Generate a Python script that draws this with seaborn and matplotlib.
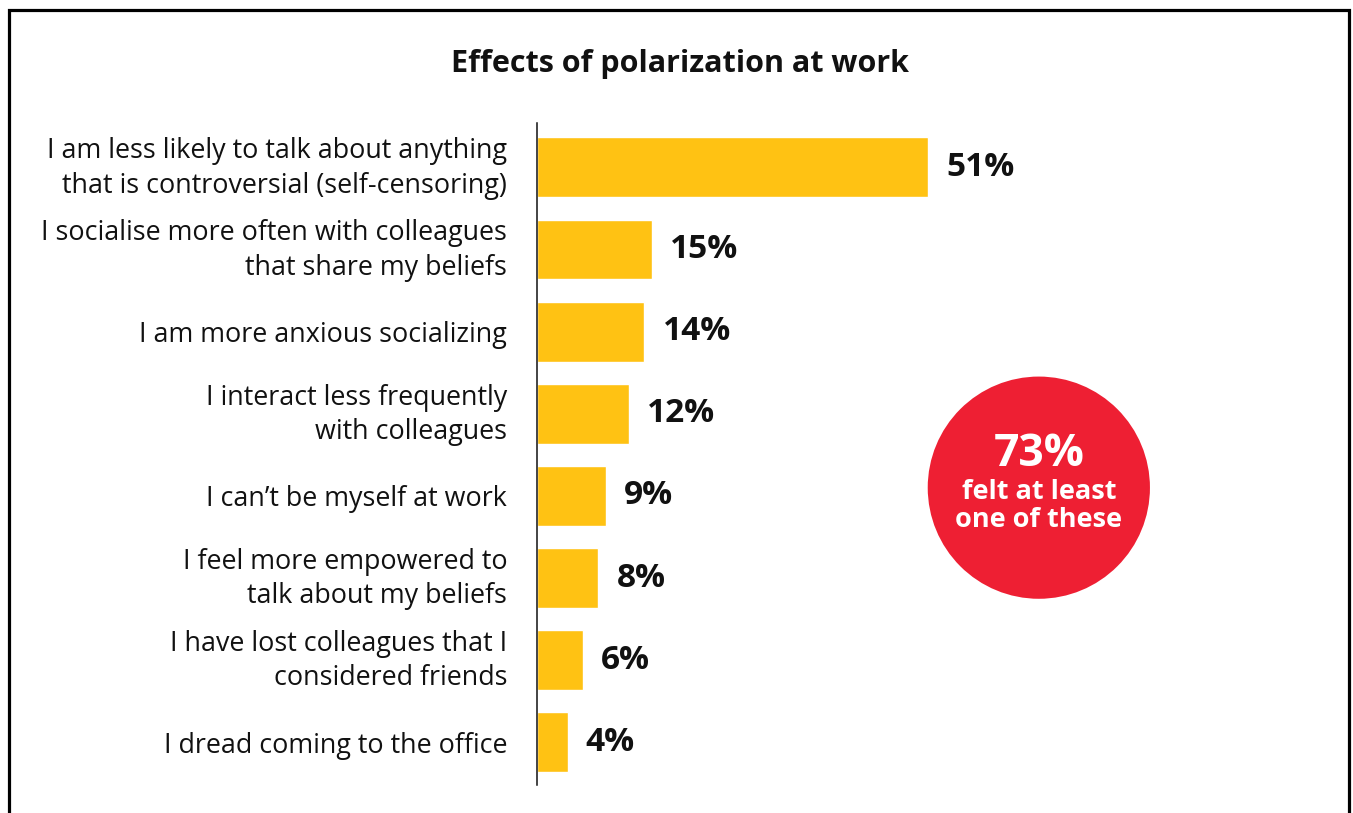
import matplotlib
matplotlib.use("Agg")
import matplotlib.pyplot as plt
from matplotlib.patches import Rectangle
from matplotlib.transforms import ScaledTranslation
import seaborn as sns
import pandas as pd

# Survey results
effects = [
    "I am less likely to talk about anything\nthat is controversial (self-censoring)",
    "I socialise more often with colleagues\nthat share my beliefs",
    "I am more anxious socializing",
    "I interact less frequently\nwith colleagues",
    "I can\u2019t be myself at work",
    "I feel more empowered to\ntalk about my beliefs",
    "I have lost colleagues that I\nconsidered friends",
    "I dread coming to the office",
]
shares = [51, 15, 14, 12, 9, 8, 6, 4]
overall_share = 73
overall_caption = "felt at least\none of these"
title = "Effects of polarization at work"

BAR = "#FFC213"
RED = "#EE1F33"

sns.set_theme(style="white")
plt.rcParams["font.family"] = ["Open Sans", "DejaVu Sans"]

df = pd.DataFrame({"effect": effects, "share": shares})

fig = plt.figure(figsize=(13.53, 8.13), dpi=100)
ax = fig.add_axes([537 / 1353, 28 / 813, 808 / 1353, 662 / 813])

sns.barplot(data=df, x="share", y="effect", color=BAR, width=0.73,
            saturation=1, ax=ax)

ax.set_xlim(0, 105.3)
ax.set_ylim(7.52, -0.54)
ax.set_xlabel("")
ax.set_ylabel("")
ax.set_xticks([])
ax.tick_params(axis="y", length=0, pad=21.5, labelsize=19.4, colors="#111111")
# two-line labels sit a touch higher than the bar centre
lift = ScaledTranslation(0, 4 / 72, fig.dpi_scale_trans)
for lbl in ax.get_yticklabels():
    lbl.set_linespacing(1.3)
    if "\n" in lbl.get_text():
        lbl.set_transform(lbl.get_transform() + lift)
for s in ["top", "right", "bottom"]:
    ax.spines[s].set_visible(False)
ax.spines["left"].set_color("#111111")
ax.spines["left"].set_linewidth(1.1)

# value labels at the bar ends
for i, v in enumerate(shares):
    ax.annotate(f"{v}%", xy=(v, i), xytext=(13, 0), textcoords="offset points",
                ha="left", va="center", fontsize=24, fontweight="bold",
                color="#111111")

# summary badge
cx, cy = 65.4, 3.9
ax.scatter([cx], [cy], s=160 ** 2, color=RED, edgecolors="none", zorder=3,
           clip_on=False)
ax.annotate(f"{overall_share}%", xy=(cx, cy), xytext=(0, 24),
            textcoords="offset points", ha="center", va="center",
            fontsize=32, fontweight="bold", color="white", zorder=4)
ax.annotate(overall_caption, xy=(cx, cy), xytext=(0, -13),
            textcoords="offset points", ha="center", va="center",
            fontsize=19.5, fontweight="bold", color="white", zorder=4,
            linespacing=1.1)

fig.text(680 / 1353, 1 - 64 / 813, title, ha="center", va="center",
         fontsize=22, fontweight="bold", color="#111111")

# frame around the figure (open at the bottom edge)
fig.patches.append(Rectangle((8.5 / 1353, -0.05), 1340.5 / 1353,
                             1 - 10 / 813 + 0.05, transform=fig.transFigure,
                             fill=False, edgecolor="black", linewidth=2.3))

fig.savefig("out.png", dpi=100, facecolor="white")
